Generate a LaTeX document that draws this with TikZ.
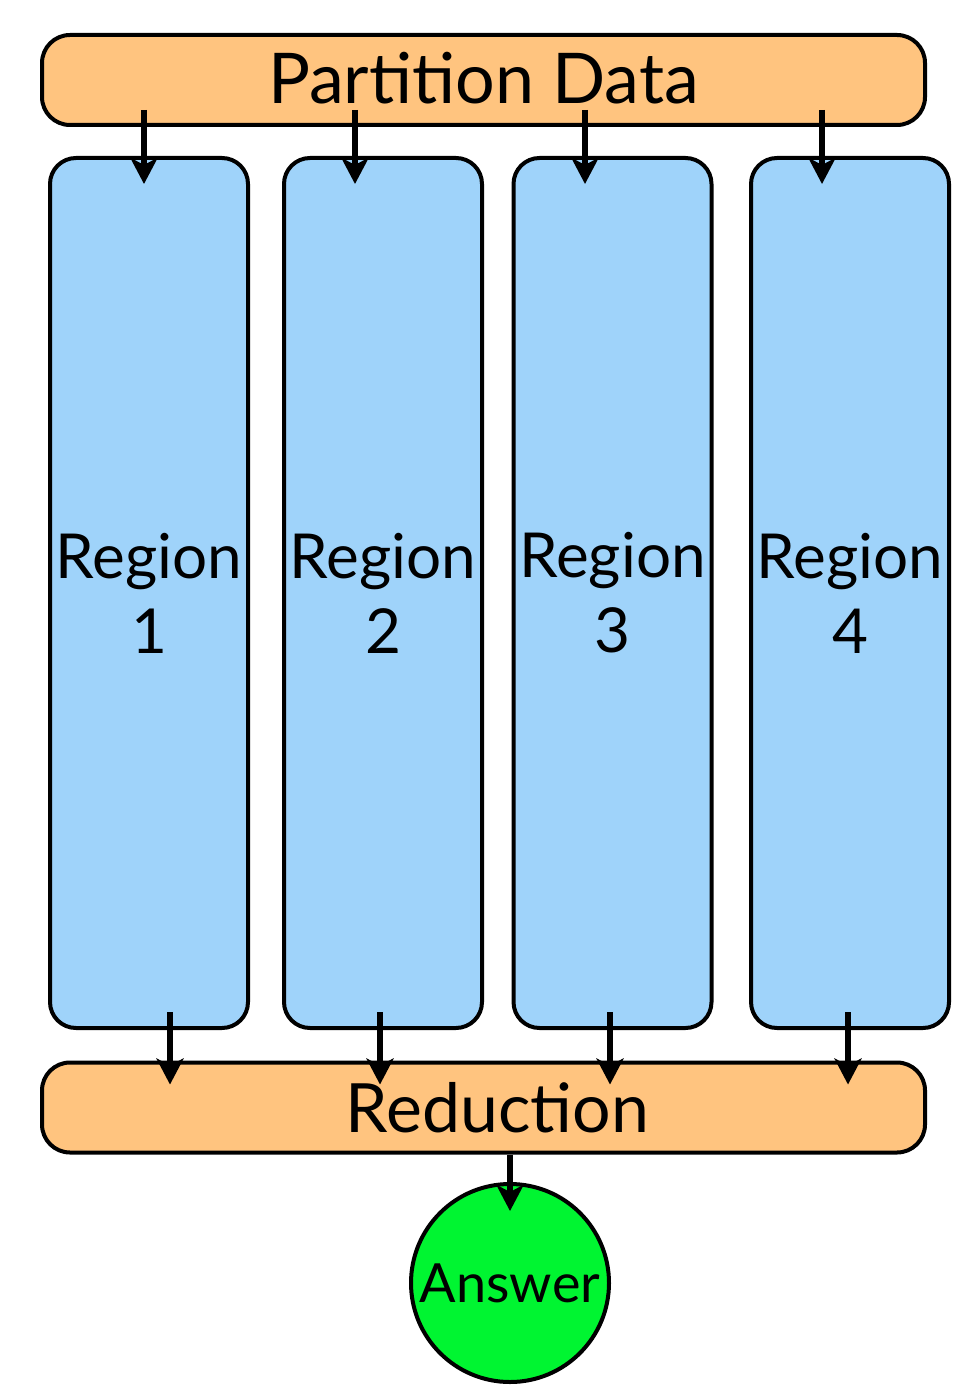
\documentclass[tikz,border=0pt]{standalone}
\usepackage{fontspec}
\setmainfont{Lato}
\usetikzlibrary{arrows.meta}
\definecolor{partorange}{HTML}{FFC47F}
\definecolor{regionblue}{HTML}{9FD3FA}
\definecolor{answergreen}{HTML}{00F531}
\tikzset{
  stagebox/.style={draw, line width=2pt, rounded corners=14pt, fill=partorange,
    minimum width=441.5pt, minimum height=45pt, inner sep=0pt, font=\fontsize{35}{40}\selectfont},
  regionbox/.style={draw, line width=2pt, rounded corners=13pt, fill=regionblue,
    minimum width=99pt, minimum height=435pt, inner sep=0pt, align=center, font=\fontsize{31}{37.5}\selectfont},
  flow/.style={-{Stealth[length=13pt,width=13.5pt,inset=3.5pt]}, line width=2.8pt}
}
\begin{document}
\begin{tikzpicture}[x=0.5pt,y=-0.5pt]
\useasboundingbox (0,0) rectangle (966,1400);
%% boxes
\node[stagebox] (part) at (483.5,80) {\raisebox{2.5pt}{Partition Data}};
\foreach \i/\x in {1/149,2/383,3/612.5,4/850}
  \node[regionbox] (r\i) at (\x,593) {Region\\\i};
\node[stagebox, font=\fontsize{34}{40}\selectfont] (red) at (483.5,1107.5) {\hspace*{14pt}Reduction};
\node[circle, draw, line width=2pt, fill=answergreen, minimum size=99pt, inner sep=0pt,
  font=\fontsize{27}{32}\selectfont] (ans) at (510,1283) {Answer};
%% arrows
\foreach \i/\x in {1/144,2/355,3/585,4/822}{
  \coordinate (in\i) at (\x,110);
  \draw[flow] (in\i) -- ([yshift=-14pt]in\i |- r\i.north);
}
\foreach \i/\x in {1/170,2/380,3/610,4/848}{
  \coordinate (out\i) at (\x,1012);
  \draw[flow] (out\i) -- ([yshift=-12pt]out\i |- red.north);
}
\draw[flow] (ans |- red.south) -- ([yshift=-14.5pt]ans.north);
\end{tikzpicture}
\end{document}
